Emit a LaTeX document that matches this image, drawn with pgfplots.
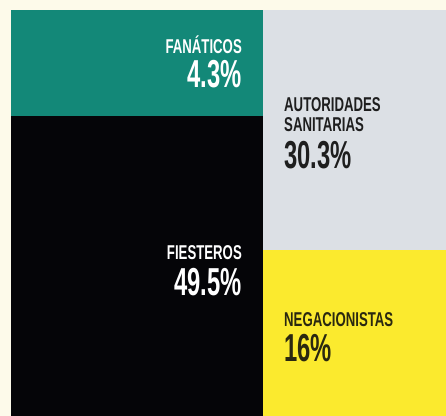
\documentclass[border=0pt]{standalone}
\usepackage{pgfplots}
\pgfplotsset{compat=1.18}
\usepackage{fontspec}
\setmainfont{Liberation Sans}
\newfontfamily\labfont[FakeStretch=0.66]{Liberation Sans Bold}
\newfontfamily\numfont[FakeStretch=0.61]{Liberation Sans Bold}
\definecolor{cream}{HTML}{FDFAEA}
\definecolor{tealc}{HTML}{138878}
\definecolor{greyc}{HTML}{DCE0E5}
\definecolor{yellowc}{HTML}{FBEA2E}
\definecolor{blackc}{HTML}{050508}
\definecolor{darktxt}{HTML}{1E1E1E}
\definecolor{olivetxt}{HTML}{2A2810}
\begin{document}
\begin{tikzpicture}
\begin{axis}[
  scale only axis, width=446bp, height=416bp,
  xmin=0, xmax=446, ymin=0, ymax=416, y dir=reverse,
  hide axis, clip=false,
]
\fill[cream] (axis cs:0,0) rectangle (axis cs:446,416);
% treemap blocks (layout as in the reference)
\addplot[fill=tealc, draw=none] coordinates {(11,10) (263,10) (263,116.5) (11,116.5)} --cycle;
\addplot[fill=blackc, draw=none] coordinates {(11,116.5) (263,116.5) (263,416) (11,416)} --cycle;
\addplot[fill=greyc, draw=none] coordinates {(263,10) (446,10) (446,250) (263,250)} --cycle;
\addplot[fill=yellowc, draw=none] coordinates {(263,250) (446,250) (446,416) (263,416)} --cycle;
% labels
\tikzset{lab/.style={inner sep=0pt, font=\labfont\fontsize{20bp}{22bp}\selectfont},
         num/.style={inner sep=0pt, font=\numfont\fontsize{39bp}{42bp}\selectfont}}
\node[lab, anchor=base east, text=white] at (axis cs:242,54) {FANÁTICOS};
\node[num, anchor=base east, text=white] at (axis cs:242,87.5) {4.3\%};
\node[lab, anchor=base east, text=white] at (axis cs:242,259) {FIESTEROS};
\node[num, anchor=base east, text=white] at (axis cs:242,295) {49.5\%};
\node[lab, anchor=base west, text=darktxt] at (axis cs:284,111.7) {AUTORIDADES};
\node[lab, anchor=base west, text=darktxt] at (axis cs:284,131.7) {SANITARIAS};
\node[num, anchor=base west, text=darktxt] at (axis cs:284,168.3) {30.3\%};
\node[lab, anchor=base west, text=olivetxt] at (axis cs:284,326.7) {NEGACIONISTAS};
\node[num, anchor=base west, text=olivetxt] at (axis cs:284,361.7) {16\%};
\end{axis}
\end{tikzpicture}
\end{document}
